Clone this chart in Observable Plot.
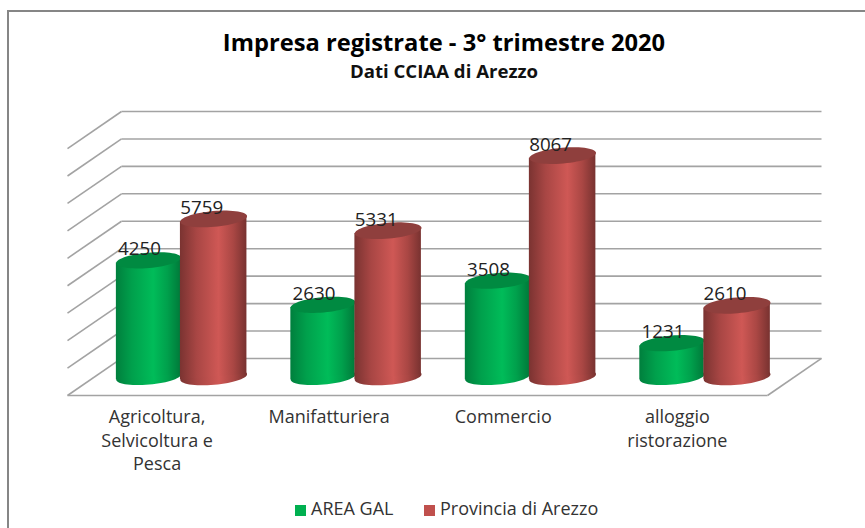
<!DOCTYPE html>
<html>
<head>
<meta charset="utf-8">
<script src="https://cdn.jsdelivr.net/npm/d3@7"></script>
<script src="https://cdn.jsdelivr.net/npm/@observablehq/plot@0.6"></script>
<style>
html,body{margin:0;padding:0;background:#fff;overflow:hidden}
#page{position:relative;width:865px;height:528px;font-family:"Open Sans",sans-serif;color:#222}
#frame{position:absolute;left:7px;top:10px;width:900px;height:600px;border:2px solid #868686;box-sizing:border-box}
#head{position:absolute;left:0;top:0;width:888px;height:88px;text-align:center}
#title{position:absolute;left:0;right:0;top:24px;font-size:23.7px;font-weight:700;line-height:36px;color:#000}
#subtitle{position:absolute;left:0;right:0;top:58px;font-size:18.6px;font-weight:700;line-height:26px;color:#111}
#chart{position:absolute;left:0;top:88px}
#legend{position:absolute;left:0;top:495px;width:865px;height:26px;font-size:18px;line-height:26px;color:#333}
.k{position:absolute;top:0;white-space:nowrap}
.k i{display:inline-block;width:11px;height:11px;margin-right:5px;vertical-align:-0.5px}
</style>
</head>
<body>
<div id="page">
  <div id="frame"></div>
  <div id="head">
    <div id="title">Impresa registrate - 3° trimestre 2020</div>
    <div id="subtitle">Dati CCIAA di Arezzo</div>
  </div>
  <div id="chart"></div>
  <div id="legend"></div>
</div>
<script>
const categories = ["Agricoltura,\nSelvicoltura e\nPesca", "Manifatturiera", "Commercio", "alloggio\nristorazione"];
const areaGal = [4250, 2630, 3508, 1231];
const provincia = [5759, 5331, 8067, 2610];
const gridValues = [0, 1000, 2000, 3000, 4000, 5000, 6000, 7000, 8000, 9000];
const seriesNames = ["AREA GAL", "Provincia di Arezzo"];
const seriesColors = ["#00b050", "#c0504d"];

// Oblique projection expressed in data units: depth of the floor along x and y.
const depthX = 54 / 175, depthY = 1350;
const midX = depthX / 2, midY = depthY / 2;
const step = 0.997, half = 0.186, tilt = 100;
const groupCenter = i => 0.5 + midX + i * step - 0.005;

const bars = [];
categories.forEach((c, i) => {
  bars.push({i, s: 0, value: areaGal[i], cx: groupCenter(i) - half, hw: 0.184, r: 32.5});
  bars.push({i, s: 1, value: provincia[i], cx: groupCenter(i) + half, hw: 0.19, r: 33.5});
});
const sides = bars.flatMap((b, k) => [-1, 1].map(sign => ({
  k, s: b.s,
  x: b.cx + sign * b.hw,
  y1: midY + sign * tilt,
  y2: midY + b.value + sign * tilt
})));

// Tilted ellipse as a custom Plot symbol.
const ellipse = {
  draw(ctx, size) {
    const rx = Math.sqrt(size / Math.PI), ry = rx * 0.235, a = -5 * Math.PI / 180, n = 60;
    for (let j = 0; j < n; ++j) {
      const t = 2 * Math.PI * j / n, u = rx * Math.cos(t), v = ry * Math.sin(t);
      const px = u * Math.cos(a) - v * Math.sin(a), py = u * Math.sin(a) + v * Math.cos(a);
      j ? ctx.lineTo(px, py) : ctx.moveTo(px, py);
    }
    ctx.closePath();
  }
};

const defs = () => {
  const svg = d3.create("svg:g");
  const d = svg.append("defs");
  const grad = (id, stops) => {
    const g = d.append("linearGradient").attr("id", id).attr("x1", 0).attr("x2", 1).attr("y1", 0).attr("y2", 0);
    stops.forEach(([o, c]) => g.append("stop").attr("offset", o).attr("stop-color", c));
  };
  grad("g0", [[0, "#007f3d"], [0.25, "#00a04c"], [0.58, "#00bc59"], [0.8, "#00a04c"], [1, "#007a3a"]]);
  grad("g1", [[0, "#7a3331"], [0.25, "#a84644"], [0.58, "#cf5855"], [0.8, "#aa4744"], [1, "#783230"]]);
  return svg.node();
};

const gridStroke = "#a3a3a3", gridWidth = 1.6;
const bodyMarks = [];
bars.forEach((b, k) => {
  const grad = `url(#g${b.s})`;
  const top = b.s ? "#8f3f3d" : "#008a41";
  bodyMarks.push(
    Plot.dot([b], {x: "cx", y: () => midY, r: b.r, symbol: ellipse, fill: grad, stroke: "none"}),
    Plot.areaY(sides.filter(d => d.k === k), {x: "x", y1: "y1", y2: "y2", fill: grad, curve: "linear"}),
    Plot.dot([b], {x: "cx", y: d => midY + d.value, r: b.r, symbol: ellipse, fill: top, stroke: "none"})
  );
});

const valueLabel = (s, dx) => Plot.text(bars.filter(b => b.s === s), {
  x: "cx", y: d => midY + d.value, text: d => String(d.value), dx, dy: -11, fontSize: 18.8, fill: "#222", fontFamily: "Open Sans"
});

const chart = Plot.plot({
  width: 865,
  height: 407,
  marginLeft: 67,
  marginRight: 44,
  marginTop: 23,
  marginBottom: 100,
  x: {domain: [0, 4 + depthX], axis: null},
  y: {domain: [0, 9000 + depthY], axis: null},
  style: {background: "transparent", overflow: "visible"},
  marks: [
    defs,
    // back wall
    Plot.link(gridValues, {x1: depthX, x2: 4 + depthX, y1: d => d + depthY, y2: d => d + depthY, stroke: gridStroke, strokeWidth: gridWidth}),
    // side wall
    Plot.link(gridValues, {x1: 0, x2: depthX, y1: d => d, y2: d => d + depthY, stroke: gridStroke, strokeWidth: gridWidth}),
    // floor front and right edges
    Plot.link([0], {x1: 0, x2: 4, y1: 0, y2: 0, stroke: gridStroke, strokeWidth: gridWidth}),
    Plot.link([0], {x1: 4, x2: 4 + depthX, y1: 0, y2: depthY, stroke: gridStroke, strokeWidth: gridWidth}),
    ...bodyMarks,
    valueLabel(0, -9),
    valueLabel(1, -12),
    Plot.axisX(categories.map((c, i) => i + 0.5 + (i ? -0.005 * i : 0.012)), {
      tickSize: 0, tickPadding: 11, fontSize: 18, lineHeight: 1.31, fill: "#333", fontFamily: "Open Sans",
      tickFormat: (d, i) => categories[i], label: null
    })
  ]
});
document.getElementById("chart").append(chart);

const legend = document.getElementById("legend");
[[295, 0], [424, 1]].forEach(([left, s]) => {
  const k = document.createElement("div");
  k.className = "k";
  k.style.left = left + "px";
  k.innerHTML = `<i style="background:${seriesColors[s]}"></i>${seriesNames[s]}`;
  legend.append(k);
});
</script>
</body>
</html>
